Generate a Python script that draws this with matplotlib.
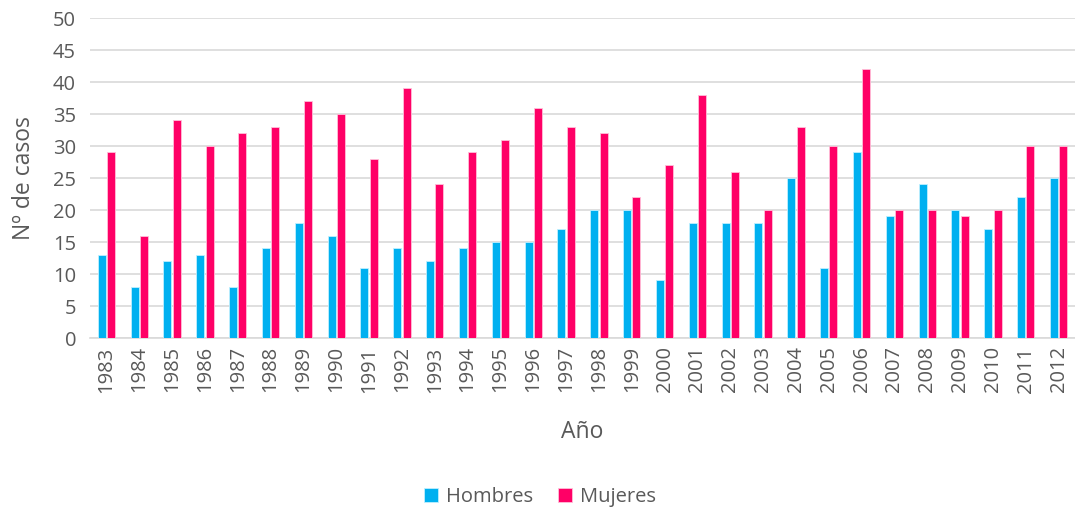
import matplotlib
matplotlib.use("Agg")
import matplotlib.pyplot as plt
import numpy as np

years = [str(y) for y in range(1983, 2013)]
hombres = [13, 8, 12, 13, 8, 14, 18, 16, 11, 14, 12, 14, 15, 15, 17, 20, 20, 9, 18, 18, 18, 25, 11, 29, 19, 24, 20, 17, 22, 25]
mujeres = [29, 16, 34, 30, 32, 33, 37, 35, 28, 39, 24, 29, 31, 36, 33, 32, 22, 27, 38, 26, 20, 33, 30, 42, 20, 20, 19, 20, 30, 30]

plt.rcParams['font.family'] = ['Open Sans', 'DejaVu Sans']
text_color = '#595959'

fig = plt.figure(figsize=(10.75, 5.13), dpi=100)
ax = fig.add_axes([90/1075, 1-338/513, 985/1075, 320/513])

x = np.arange(len(years))
w = 0.245
ax.bar(x - w/2 - 0.02, hombres, width=w, color='#00B0F0', edgecolor='#BFEFFF', linewidth=0.6, label='Hombres', zorder=3)
ax.bar(x + w/2 + 0.02, mujeres, width=w, color='#FF0066', edgecolor='#FFBFD9', linewidth=0.6, label='Mujeres', zorder=3)

ax.set_ylim(0, 50)
ax.set_yticks(range(0, 51, 5))
ax.set_xlim(-0.5, len(years) - 0.5)
ax.set_xticks(x)
ax.set_xticklabels(years, rotation=90)
ax.grid(axis='y', color='#D9D9D9', linewidth=1.2, zorder=0)
for s in ['top', 'right', 'left']:
    ax.spines[s].set_visible(False)
ax.spines['bottom'].set_color('#D9D9D9')
ax.spines['bottom'].set_linewidth(1.2)
ax.tick_params(axis='y', length=0, colors=text_color, labelsize=14.5, pad=10)
ax.tick_params(axis='x', length=0, colors=text_color, labelsize=14.5, pad=6)

ax.set_xlabel('Año', fontsize=16.5, color=text_color, labelpad=20)
ax.set_ylabel('Nº de casos', fontsize=16.5, color=text_color, labelpad=12)

leg = fig.legend(loc='center', bbox_to_anchor=(540/1075, 1-497/513), ncol=2, frameon=False,
                 fontsize=14.5, handlelength=0.7, handleheight=0.7, columnspacing=1.2, handletextpad=0.4)
for t in leg.get_texts():
    t.set_color(text_color)

fig.savefig('out.png', dpi=100)
